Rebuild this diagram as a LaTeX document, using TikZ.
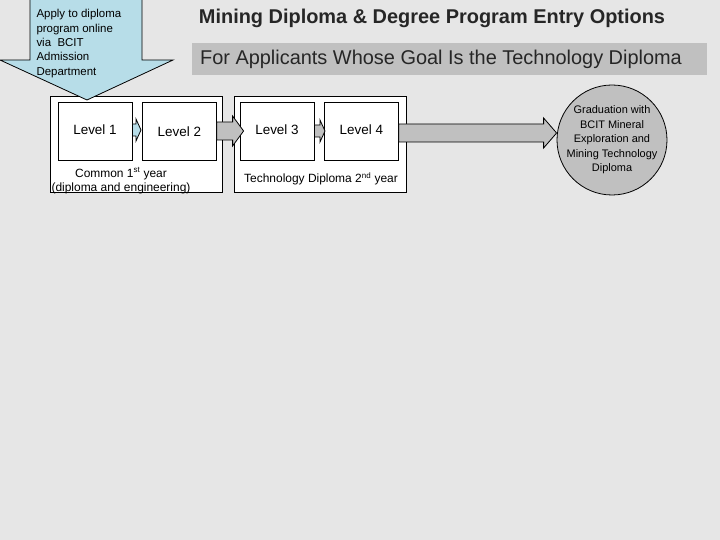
\documentclass[tikz,border=0pt]{standalone}
\usepackage{fontspec}
\setmainfont{Liberation Sans}
\usetikzlibrary{positioning, calc}
\definecolor{BgGray}{HTML}{E6E6E6}
\definecolor{ApplyBlue}{HTML}{B7DDE8}
\definecolor{FlowGray}{HTML}{C0C0C0}
\tikzset{
  level/.style={draw, thick, fill=white, minimum width=74bp, minimum height=58bp, font=\fontsize{13.5}{16}\selectfont, inner sep=0pt},
  group/.style={draw, thick, fill=white, minimum width=172bp, minimum height=96bp, inner sep=0pt},
  small/.style={font=\fontsize{12}{14.5}\selectfont, align=center}
}
% block arrow: start, end, half body, half head, head length, fill
\newcommand{\blockarrow}[6]{%
  \draw[thick, fill=#6] ($(#1)+(0,-#3)$) -- ($(#2)+(-#5,-#3)$) -- ($(#2)+(-#5,-#4)$) -- (#2)
    -- ($(#2)+(-#5,#4)$) -- ($(#2)+(-#5,#3)$) -- ($(#1)+(0,#3)$) -- cycle;}
\begin{document}
\begin{tikzpicture}[x=1bp, y=-1bp]
  \fill[BgGray] (0,0) rectangle (720,540);
  \useasboundingbox (0,0) rectangle (720,540);
  % Titles
  \node[font=\fontsize{20}{22}\selectfont\bfseries, text=black!85] (title) at (432,18) {Mining Diploma \& Degree Program Entry Options};
  \node[fill=FlowGray, minimum width=515bp, minimum height=32bp, font=\fontsize{20}{22}\selectfont, text=black!85] (subtitle) at (449.5,59) {\hspace*{-17bp}For Applicants Whose Goal Is the Technology Diploma};
  % Groups
  \node[group] (common) at (136,144) {};
  \node[group] (techdip) at (320,144) {};
  \node[level] (l1) at (95,131) {\raisebox{3bp}{Level 1}};
  \node[level, anchor=north west] (l2) at (142,102) {\raisebox{-4bp}{Level 2}};
  \node[level] (l3) at (277,131) {\raisebox{3bp}{Level 3}};
  \node[level, anchor=north west] (l4) at (324,102) {\raisebox{3bp}{Level 4}};
  \node[small, anchor=north] (commonlbl) at (121,164) {Common 1\textsuperscript{st} year\\(diploma and engineering)};
  \node[small, anchor=north] (techlbl) at (321,169) {Technology Diploma 2\textsuperscript{nd} year};
  % Apply arrow
  \draw[thick, fill=ApplyBlue] (30,-2) -- (142,-2) -- (142,60) -- (173,60) -- (87,100) coordinate (applytip)
    -- (0,60) -- (30,60) -- cycle;
  \node[small, align=left, anchor=north west, font=\fontsize{11.5}{14.4}\selectfont] (applylbl) at (33,6) {Apply to diploma\\program online\\via\ \ BCIT\\Admission\\Department};
  % Graduation
  \node[circle, draw, thick, fill=FlowGray, minimum size=110bp, inner sep=-6bp, small, font=\fontsize{11}{14.5}\selectfont] (grad) at (612,140) {Graduation with\\BCIT Mineral\\Exploration and\\Mining Technology\\Diploma};
  % Flow arrows
  \coordinate (a12s) at (l1.east |- 0,130);
  \coordinate (a12e) at ($(l2.west |- 0,130)+(-1,0)$);
  \blockarrow{a12s}{a12e}{6}{11}{5}{ApplyBlue}
  \coordinate (a23s) at (l2.east |- 0,131);
  \coordinate (a23e) at ($(l3.west |- 0,131)+(4,0)$);
  \blockarrow{a23s}{a23e}{9}{15}{11}{FlowGray}
  \coordinate (a34s) at (l3.east |- 0,131);
  \coordinate (a34e) at ($(l4.west |- 0,131)+(1,0)$);
  \blockarrow{a34s}{a34e}{6}{11}{5}{FlowGray}
  \coordinate (a4gs) at (l4.east |- 0,133);
  \coordinate (a4ge) at (grad.west |- 0,133);
  \blockarrow{a4gs}{a4ge}{9}{15}{13}{FlowGray}
\end{tikzpicture}
\end{document}
